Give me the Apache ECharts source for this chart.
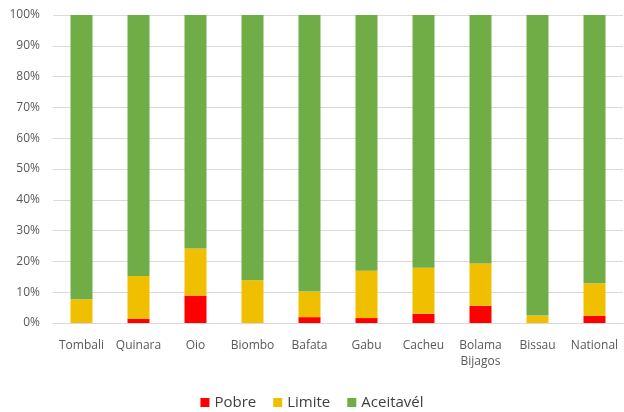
<!DOCTYPE html>
<html>
<head>
<meta charset="utf-8">
<script src="https://cdn.jsdelivr.net/npm/echarts@6/dist/echarts.min.js"></script>
<style>
  html, body { margin: 0; padding: 0; background: #fff; }
  #chart { width: 624px; height: 412px; }
</style>
</head>
<body>
<div id="chart"></div>
<script>
const regions = ["Tombali", "Quinara", "Oio", "Biombo", "Bafata", "Gabu", "Cacheu", "Bolama\nBijagos", "Bissau", "National"];
const pobre = [0, 1.4, 8.9, 0, 1.9, 1.6, 3.0, 5.6, 0, 2.3];
const limite = [7.7, 13.9, 15.3, 13.9, 8.3, 15.4, 14.9, 13.7, 2.4, 10.6];
const aceitavel = [92.3, 84.7, 75.8, 86.1, 89.8, 83.0, 82.1, 80.7, 97.6, 87.1];

const font = "Open Sans";

const chart = echarts.init(document.getElementById("chart"));

function bar(name, data, color) {
  return {
    name: name,
    type: "bar",
    stack: "total",
    barWidth: 22,
    itemStyle: { color: color },
    data: data,
  };
}

chart.setOption({
  animation: false,
  textStyle: { fontFamily: font },
  legend: {
    bottom: -3,
    left: "center",
    itemWidth: 9,
    itemHeight: 9,
    itemGap: 17,
    icon: "rect",
    textStyle: { fontSize: 15, color: "#404040", fontFamily: font },
    data: ["Pobre", "Limite", "Aceitavél"],
  },
  grid: {
    left: 53,
    right: 1,
    top: 15,
    bottom: 89,
  },
  xAxis: {
    type: "category",
    data: regions,
    axisTick: { show: false },
    axisLine: { lineStyle: { color: "#d9d9d9" } },
    axisLabel: {
      color: "#595959",
      fontSize: 12,
      margin: 15,
      lineHeight: 16,
      interval: 0,
    },
  },
  yAxis: {
    type: "value",
    min: 0,
    max: 100,
    interval: 10,
    axisLabel: {
      formatter: "{value}%",
      color: "#595959",
      fontSize: 12,
      margin: 13,
    },
    splitLine: { lineStyle: { color: "#d9d9d9" } },
  },
  series: [
    bar("Pobre", pobre, "#ff0000"),
    bar("Limite", limite, "#f0c000"),
    bar("Aceitavél", aceitavel, "#70ad47"),
  ],
});
</script>
</body>
</html>
